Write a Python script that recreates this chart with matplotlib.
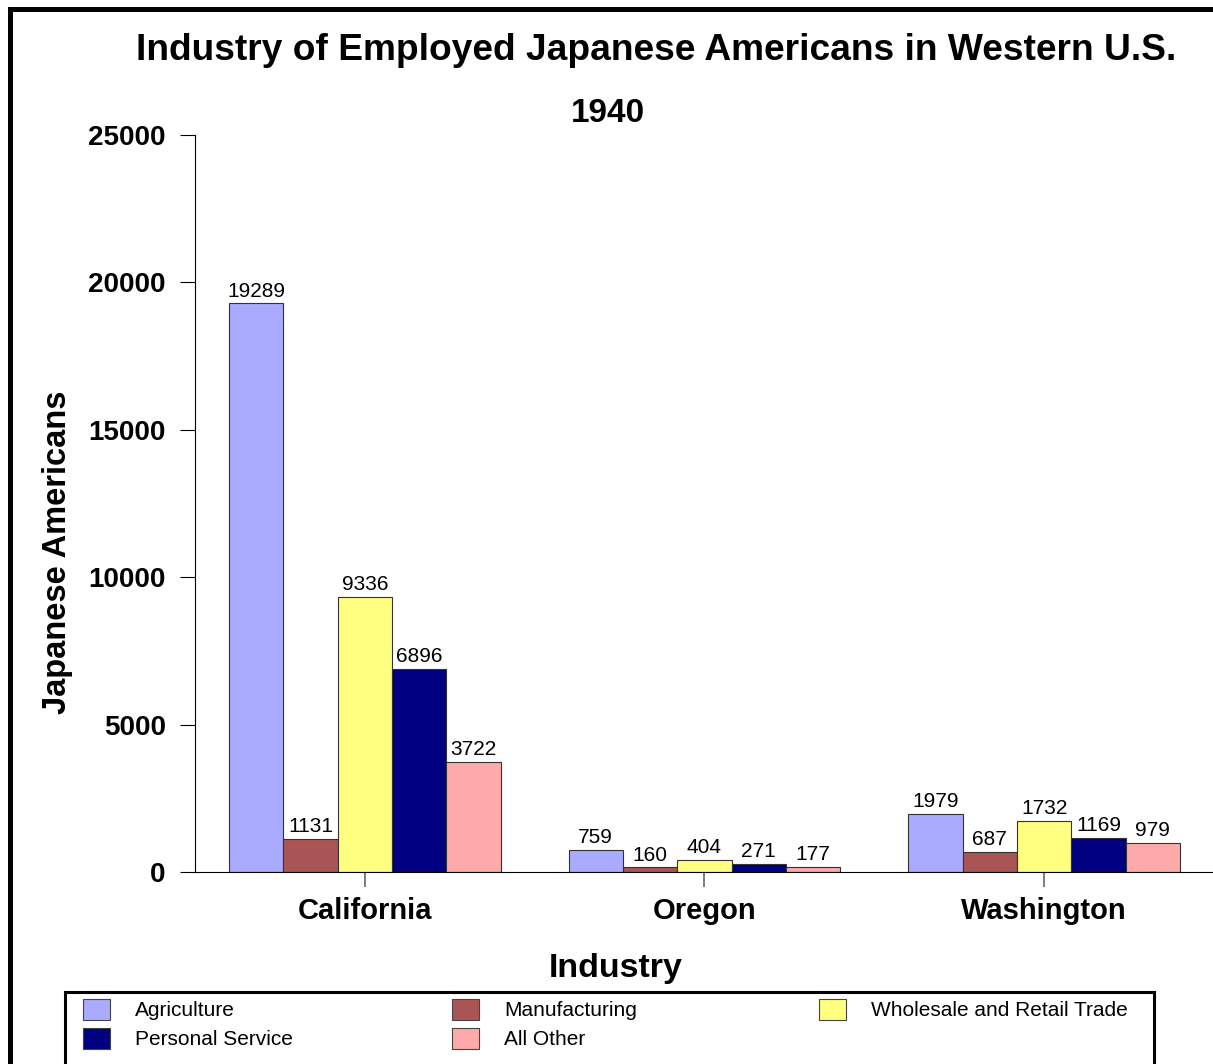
import numpy as np
import matplotlib.pyplot as plt
from matplotlib.patches import Rectangle

plt.rcParams['font.family'] = ['Liberation Sans', 'DejaVu Sans']

# --- Data ---
states = ['California', 'Oregon', 'Washington']
industries = ['Agriculture', 'Manufacturing', 'Wholesale and Retail Trade',
              'Personal Service', 'All Other']
agriculture = [19289, 759, 1979]
manufacturing = [1131, 160, 687]
wholesale_retail = [9336, 404, 1732]
personal_service = [6896, 271, 1169]
all_other = [3722, 177, 979]
colors = ['#AAAAFF', '#AA5555', '#FFFF80', '#000080', '#FFAAAA']
yticks = [0, 5000, 10000, 15000, 20000, 25000]

series = [agriculture, manufacturing, wholesale_retail, personal_service, all_other]

W, H = 1213, 1064
fig = plt.figure(figsize=(W / 100, H / 100), dpi=100)
ax = fig.add_axes([195 / W, 1 - 872 / H, 1019 / W, (872 - 135) / H])

x = np.arange(len(states))
bw = 0.16
handles = []
for i, (vals, col) in enumerate(zip(series, colors)):
    pos = x + (i - 2) * bw
    bars = ax.bar(pos, vals, width=bw, color=col, edgecolor='#333333',
                  linewidth=0.8, label=industries[i], zorder=2)
    handles.append(bars)
    for p, v in zip(pos, vals):
        ax.annotate(str(v), (p, v), xytext=(0, 2), textcoords='offset points',
                    ha='center', va='bottom', fontsize=15, zorder=3,
                    bbox=dict(facecolor='white', edgecolor='none', pad=0.5))

ax.set_xlim(-0.5, 2.5)
ax.set_ylim(0, 25000)
ax.set_yticks(yticks)
ax.set_yticklabels([str(t) for t in yticks], fontsize=20, fontweight='bold')
ax.set_xticks(x)
ax.set_xticklabels(states, fontsize=21, fontweight='bold')
ax.tick_params(axis='y', length=11, width=0.8, pad=10)
ax.tick_params(axis='x', length=11, width=1.2, color='#666666', pad=7)

for s in ['top', 'right']:
    ax.spines[s].set_visible(False)
ax.spines['left'].set_linewidth(0.8)
ax.spines['bottom'].set_linewidth(0.8)

ylab = ax.set_ylabel('Japanese Americans', fontsize=23.5, fontweight='bold')
ylab.set_va('center')
ax.yaxis.set_label_coords((57 - 195) / 1019, (872 - 552) / 737)

fig.text(616 / W, 1 - 968 / H, 'Industry', fontsize=24.5, fontweight='bold',
         ha='center', va='center')
fig.text(656 / W, 1 - 50 / H,
         'Industry of Employed Japanese Americans in Western U.S.',
         fontsize=26.7, fontweight='bold', ha='center', va='center')
fig.text(608 / W, 1 - 113 / H, '1940', fontsize=24, fontweight='bold',
         ha='center', va='center')

# legend: three columns, each its own legend, inside one open-bottom frame
columns = [[0, 3], [1, 4], [2]]
col_x = [83, 452, 819]
for idx, cx in zip(columns, col_x):
    leg = fig.legend([handles[i] for i in idx], [industries[i] for i in idx],
                     loc='upper left', bbox_to_anchor=(cx / W, 1 - 999 / H),
                     fontsize=15, frameon=False,
                     handlelength=1.3, handleheight=1.15, handletextpad=1.2,
                     labelspacing=0.36, borderpad=0, borderaxespad=0)
    for p in leg.get_patches():
        p.set_edgecolor('#444444')
fig.patches.append(Rectangle((64.5 / W, -0.05), 1089 / W, 0.05 + 1 - 992 / H,
                             transform=fig.transFigure, fill=False,
                             edgecolor='black', linewidth=2.2))

# outer border, open on the right and bottom
fig.patches.append(Rectangle((9.5 / W, -0.1), 1.2, 1 - 8.5 / H + 0.1,
                             transform=fig.transFigure, fill=False,
                             edgecolor='black', linewidth=3.6))

fig.savefig('out.png', dpi=100)
